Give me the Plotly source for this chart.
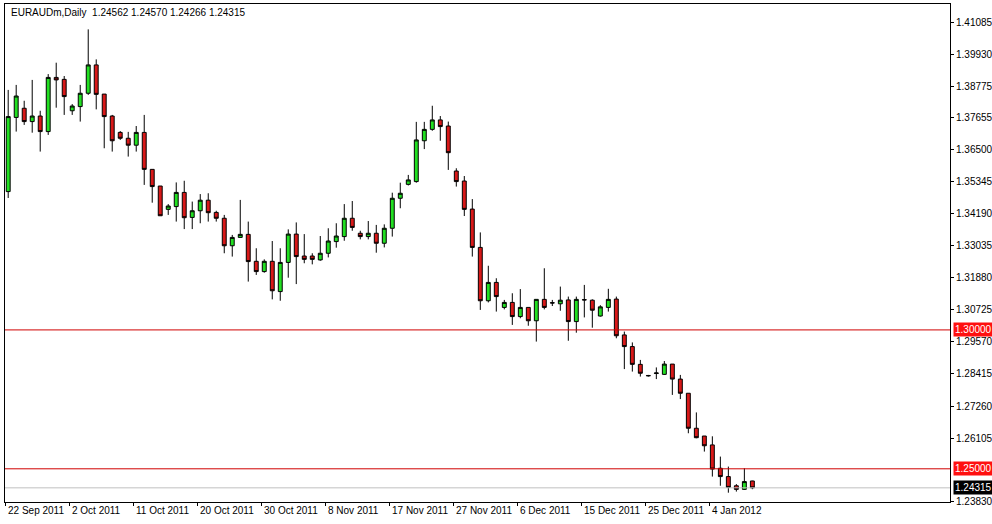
import plotly.graph_objects as go

# daily EURAUDm candles, 22 Sep 2011 -> 9 Jan 2012
opens = [1.3498, 1.3765, 1.3798, 1.3750, 1.3770, 1.3714, 1.3909, 1.3902, 1.3789, 1.3804,
         1.3852, 1.3954, 1.3849, 1.3770, 1.3711, 1.3690, 1.3665, 1.3711, 1.3578, 1.3518,
         1.3434, 1.3444, 1.3495, 1.3405, 1.3429, 1.3467, 1.3423, 1.3402, 1.3303, 1.3333,
         1.3344, 1.3247, 1.3210, 1.3247, 1.3138, 1.3243, 1.3345, 1.3266, 1.3266, 1.3252,
         1.3276, 1.3318, 1.3336, 1.3402, 1.3348, 1.3336, 1.3348, 1.3312, 1.3366, 1.3474,
         1.3524, 1.3534, 1.3681, 1.3722, 1.3756, 1.3734, 1.3572, 1.3536, 1.3435, 1.3297,
         1.3105, 1.3171, 1.3081, 1.3099, 1.3048, 1.3081, 1.3033, 1.3110, 1.3098, 1.3094,
         1.3108, 1.3030, 1.3109, 1.3107, 1.3050, 1.3081, 1.3111, 1.2982, 1.2940, 1.2876,
         1.2836, 1.2843, 1.2840, 1.2877, 1.2823, 1.2772, 1.2646, 1.2618, 1.2586, 1.2502,
         1.2472, 1.2439, 1.2426, 1.24562]
highs = [1.3864, 1.3882, 1.3825, 1.3900, 1.3789, 1.3921, 1.3962, 1.3914, 1.3813, 1.3882,
         1.4082, 1.3974, 1.3849, 1.3774, 1.3716, 1.3713, 1.3734, 1.3774, 1.3578, 1.3518,
         1.3453, 1.3531, 1.3537, 1.3462, 1.3489, 1.3492, 1.3429, 1.3414, 1.3342, 1.3468,
         1.3390, 1.3294, 1.3254, 1.3320, 1.3294, 1.3362, 1.3387, 1.3345, 1.3276, 1.3338,
         1.3366, 1.3384, 1.3453, 1.3464, 1.3357, 1.3392, 1.3378, 1.3380, 1.3494, 1.3530,
         1.3558, 1.3749, 1.3749, 1.3807, 1.3770, 1.3750, 1.3582, 1.3554, 1.3471, 1.3351,
         1.3231, 1.3186, 1.3108, 1.3132, 1.3147, 1.3081, 1.3110, 1.3222, 1.3108, 1.3156,
         1.3120, 1.3120, 1.3162, 1.3110, 1.3089, 1.3148, 1.3120, 1.2994, 1.2955, 1.2892,
         1.2838, 1.2865, 1.2888, 1.2877, 1.2838, 1.2772, 1.2703, 1.2618, 1.2617, 1.2544,
         1.2508, 1.2445, 1.2502, 1.24570]
lows = [1.3475, 1.3714, 1.3738, 1.3710, 1.3642, 1.3702, 1.3800, 1.3774, 1.3774, 1.3750,
        1.3846, 1.3794, 1.3654, 1.3642, 1.3684, 1.3624, 1.3642, 1.3522, 1.3458, 1.3411,
        1.3414, 1.3390, 1.3363, 1.3363, 1.3384, 1.3390, 1.3390, 1.3276, 1.3264, 1.3333,
        1.3174, 1.3198, 1.3206, 1.3110, 1.3105, 1.3188, 1.3165, 1.3240, 1.3236, 1.3249,
        1.3261, 1.3296, 1.3321, 1.3357, 1.3326, 1.3326, 1.3278, 1.3297, 1.3336, 1.3438,
        1.3520, 1.3530, 1.3651, 1.3717, 1.3681, 1.3576, 1.3516, 1.3410, 1.3264, 1.3072,
        1.3099, 1.3066, 1.3074, 1.3018, 1.3042, 1.3015, 1.2958, 1.3074, 1.3086, 1.3069,
        1.2961, 1.2990, 1.3045, 1.3008, 1.3048, 1.3066, 1.2970, 1.2859, 1.2850, 1.2832,
        1.2832, 1.2823, 1.2838, 1.2766, 1.2751, 1.2628, 1.2610, 1.2562, 1.2472, 1.2439,
        1.2414, 1.2418, 1.2424, 1.24266]
closes = [1.3768, 1.3842, 1.3750, 1.3770, 1.3714, 1.3909, 1.3900, 1.3840, 1.3806, 1.3852,
          1.3954, 1.3848, 1.3768, 1.3681, 1.3690, 1.3665, 1.3711, 1.3578, 1.3516, 1.3411,
          1.3446, 1.3495, 1.3404, 1.3429, 1.3467, 1.3422, 1.3402, 1.3303, 1.3333, 1.3344,
          1.3246, 1.3210, 1.3247, 1.3141, 1.3243, 1.3345, 1.3264, 1.3254, 1.3254, 1.3276,
          1.3320, 1.3338, 1.3402, 1.3369, 1.3336, 1.3348, 1.3312, 1.3366, 1.3474, 1.3492,
          1.3540, 1.3684, 1.3722, 1.3756, 1.3732, 1.3638, 1.3534, 1.3434, 1.3297, 1.3105,
          1.3171, 1.3120, 1.3099, 1.3048, 1.3081, 1.3033, 1.3110, 1.3081, 1.3097, 1.3107,
          1.3030, 1.3110, 1.3108, 1.3071, 1.3083, 1.3110, 1.2979, 1.2940, 1.2876, 1.2844,
          1.2835, 1.2845, 1.2877, 1.2823, 1.2772, 1.2646, 1.2612, 1.2583, 1.2499, 1.2472,
          1.2433, 1.2426, 1.2454, 1.24315]

date_labels = ["22 Sep 2011", "2 Oct 2011", "11 Oct 2011", "20 Oct 2011", "30 Oct 2011",
               "8 Nov 2011", "17 Nov 2011", "27 Nov 2011", "6 Dec 2011", "15 Dec 2011",
               "25 Dec 2011", "4 Jan 2012"]
date_bars = [0, 8, 16, 24, 32, 40, 48, 56, 64, 72, 80, 88]

y_ticks = [1.41085, 1.39930, 1.38775, 1.37655, 1.36500, 1.35345, 1.34190, 1.33035,
           1.31880, 1.30725, 1.29570, 1.28415, 1.27260, 1.26105, 1.23830]
levels = [1.30000, 1.25000]
last_price = 1.24315

FONT = "Liberation Sans"
idx = list(range(len(opens)))

fig = go.Figure()
fig.add_trace(go.Candlestick(
    x=idx, open=opens, high=highs, low=lows, close=closes,
    increasing=dict(fillcolor="#22e022", line=dict(color="black", width=1)),
    decreasing=dict(fillcolor="#d81818", line=dict(color="black", width=1)),
    whiskerwidth=0, showlegend=False, hoverinfo="skip",
))

for lv in levels:
    fig.add_hline(y=lv, line=dict(color="#d00000", width=1))
    fig.add_annotation(x=1, xref="paper", y=lv, yref="y", xanchor="left", xshift=3,
                       text=f"{lv:.5f}", showarrow=False, bgcolor="#ff1010",
                       font=dict(family=FONT, size=10, color="white"), borderpad=1)
fig.add_hline(y=last_price, line=dict(color="#c0c0c0", width=1))
fig.add_annotation(x=1, xref="paper", y=last_price, yref="y", xanchor="left", xshift=3,
                   text=f"{last_price:.5f}", showarrow=False, bgcolor="black",
                   font=dict(family=FONT, size=10, color="white"), borderpad=1)

for pos, lab in zip(date_bars, date_labels):
    fig.add_annotation(x=pos - 0.3, xref="x", y=0, yref="paper", yanchor="top", xanchor="left",
                       yshift=-1, text=lab, showarrow=False,
                       font=dict(family=FONT, size=10, color="black"))

fig.add_annotation(x=0, xref="paper", y=1, yref="paper", xanchor="left", yanchor="top",
                   xshift=4, yshift=-1,
                   text="EURAUDm,Daily  1.24562 1.24570 1.24266 1.24315", showarrow=False,
                   font=dict(family=FONT, size=10, color="black"))

fig.update_layout(
    width=992, height=524,
    margin=dict(l=5, r=42, t=4, b=22),
    paper_bgcolor="white", plot_bgcolor="white",
    font=dict(family=FONT, size=10, color="black"),
    xaxis=dict(range=[-0.4, 117.7], showgrid=False, zeroline=False, rangeslider=dict(visible=False),
               showline=True, linecolor="black", mirror=True, tickvals=[b - 0.3 for b in date_bars],
               ticktext=[""] * len(date_bars), ticks="outside", ticklen=3, tickcolor="black",
               automargin=False),
    yaxis=dict(range=[1.23805, 1.41733], side="right", showgrid=False, zeroline=False,
               showline=True, linecolor="black", mirror=True, tickvals=y_ticks,
               ticktext=[f"{v:.5f}" for v in y_ticks], ticks="outside", ticklen=3,
               tickcolor="black", tickfont=dict(family=FONT, size=10), automargin=False),
)

# drop the browser's default page margin so the chart sits flush in the window
fig.write_html("out.html", config={"displayModeBar": False},
               post_script="document.body.style.margin='0px';")
